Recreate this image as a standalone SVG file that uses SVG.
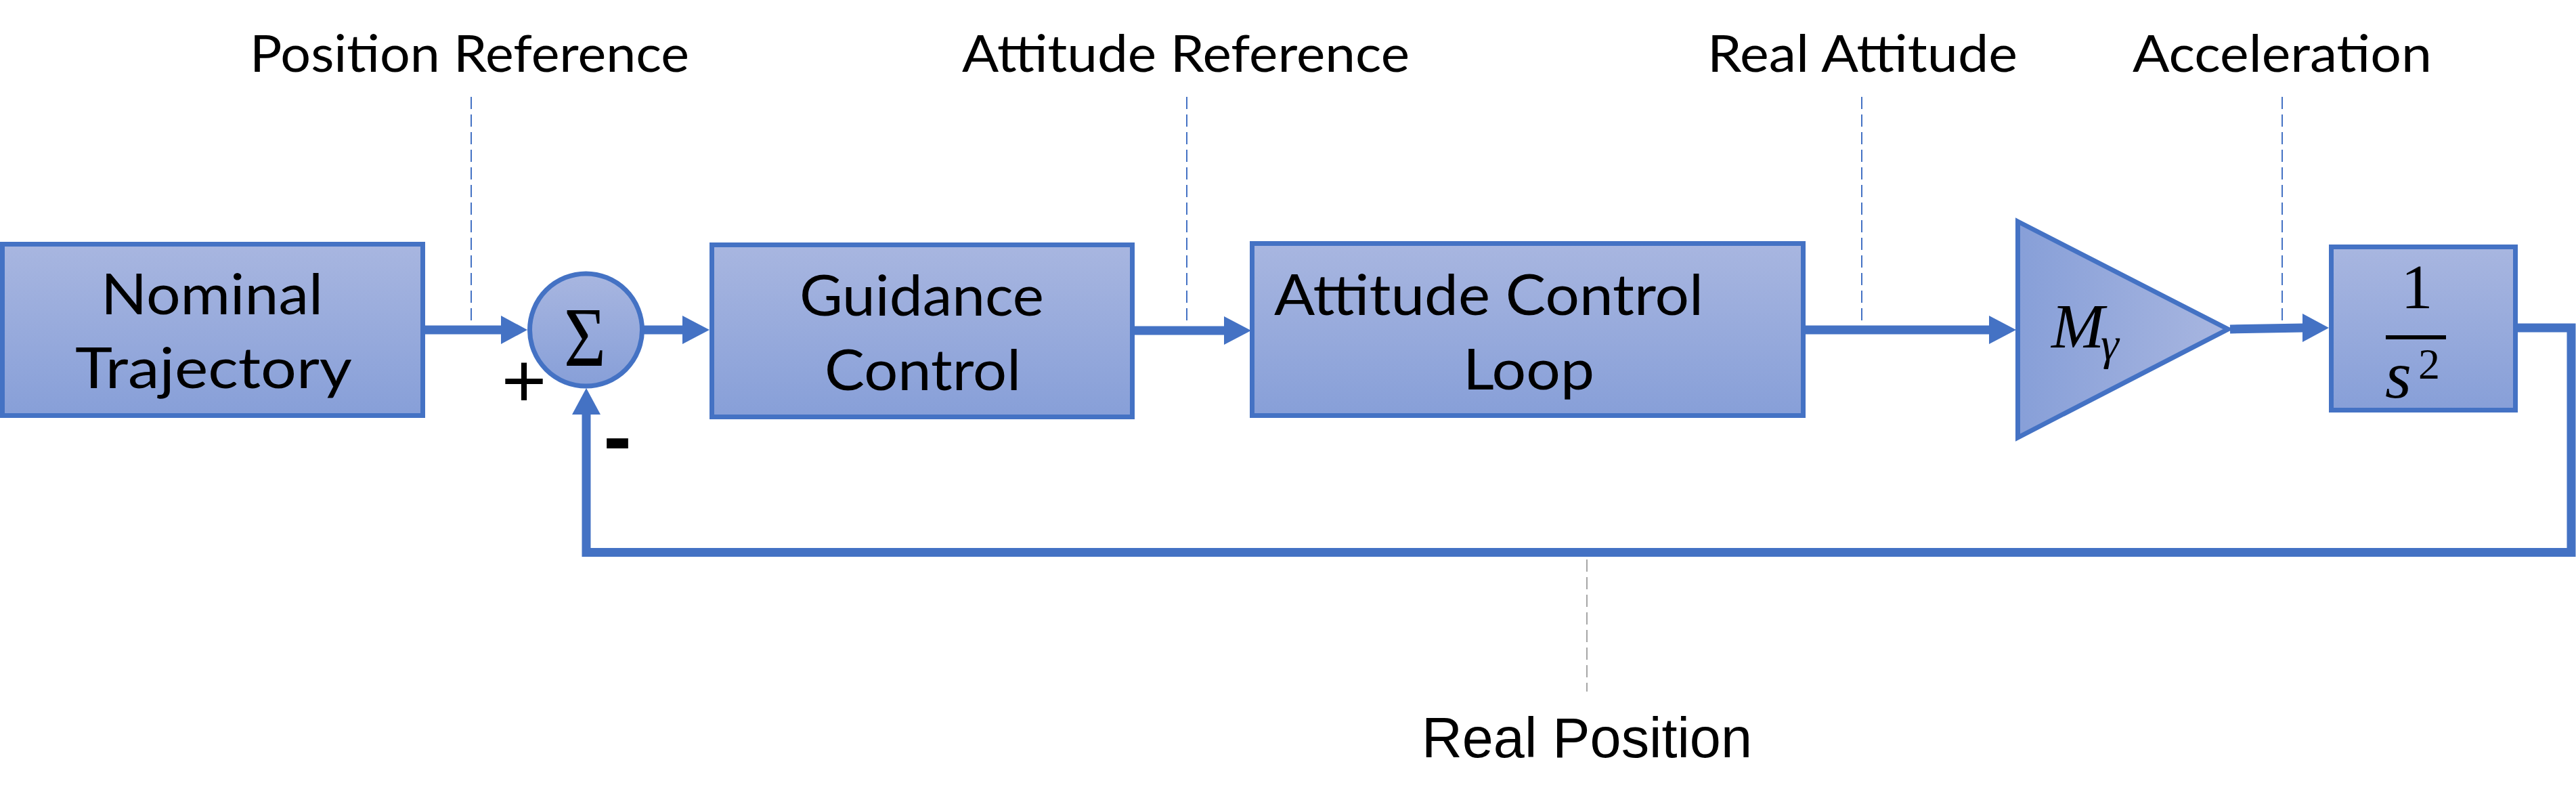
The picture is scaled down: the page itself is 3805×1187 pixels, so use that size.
<svg xmlns="http://www.w3.org/2000/svg" width="3805" height="1187" viewBox="0 0 3805 1187">
<style>
.box{stroke:#4472C4;stroke-width:7;fill:url(#gv)}
.lbl{font-family:Lato,"Liberation Sans",sans-serif;font-size:75px;fill:#000}
.btx{font-family:Lato,"Liberation Sans",sans-serif;font-size:83px;fill:#000}
.math{font-family:"Liberation Serif","DejaVu Serif",serif;fill:#000}
.conn{stroke:#4472C4;stroke-width:13;fill:none;stroke-linejoin:miter}
.head{fill:#4472C4}
.dash{stroke:#4472C4;stroke-width:2;stroke-dasharray:18 8;fill:none}
.dashg{stroke:#A6A6A6;stroke-width:2;stroke-dasharray:18 8;fill:none}
</style>
<defs>
<linearGradient id="gv" x1="0" y1="0" x2="0" y2="1">
<stop offset="0" stop-color="#A8B6E0"/>
<stop offset="1" stop-color="#879FD8"/>
</linearGradient>
<linearGradient id="gh" x1="0" y1="0" x2="1" y2="0">
<stop offset="0" stop-color="#879FD8"/>
<stop offset="1" stop-color="#A8B6E0"/>
</linearGradient>
</defs>
<rect width="3805" height="1187" fill="#fff"/>

<g id="labels">
<text class="lbl" x="369" y="106" textLength="649" lengthAdjust="spacingAndGlyphs">Position Reference</text>
<text class="lbl" x="1421" y="106" textLength="661" lengthAdjust="spacingAndGlyphs">Attitude Reference</text>
<text class="lbl" x="2522" y="106" textLength="458" lengthAdjust="spacingAndGlyphs">Real Attitude</text>
<text class="lbl" x="3150" y="106" textLength="442" lengthAdjust="spacingAndGlyphs">Acceleration</text>
<text x="2344" y="1118" font-family="'Liberation Sans',Arial,sans-serif" font-size="84" text-anchor="middle" textLength="488" lengthAdjust="spacingAndGlyphs" fill="#000">Real Position</text>
</g>

<g id="probes">
<line class="dash" x1="696" y1="143" x2="696" y2="480"/>
<line class="dash" x1="1753" y1="143" x2="1753" y2="480"/>
<line class="dash" x1="2750" y1="143" x2="2750" y2="480"/>
<line class="dash" x1="3371" y1="143" x2="3371" y2="480"/>
<line class="dashg" x1="2344" y1="826" x2="2344" y2="1021"/>
</g>

<g id="connectors">
<line class="conn" x1="628" y1="487" x2="742" y2="487"/>
<polygon class="head" points="740,466 779,487 740,508"/>
<line class="conn" x1="950" y1="487" x2="1010" y2="487"/>
<polygon class="head" points="1008,466 1048,487 1008,508"/>
<line class="conn" x1="1676" y1="488" x2="1810" y2="488"/>
<polygon class="head" points="1808,467 1848,488 1808,509"/>
<line class="conn" x1="2667" y1="487" x2="2940" y2="487"/>
<polygon class="head" points="2938,466 2978,487 2938,508"/>
<line class="conn" x1="3294" y1="486" x2="3403" y2="484"/>
<polygon class="head" points="3401,463 3440,484 3401,505"/>
<path class="conn" d="M3719,484 H3798 V815.5 H866 V610" stroke-width="14"/>
<polygon class="head" points="845,612 866,573 887,612"/>
</g>

<g id="nominal">
<rect class="box" x="3.5" y="360.5" width="621" height="253"/>
<text class="btx" x="149" y="464" textLength="328" lengthAdjust="spacingAndGlyphs">Nominal</text>
<text class="btx" x="111" y="573" textLength="409" lengthAdjust="spacingAndGlyphs">Trajectory</text>
</g>

<g id="sum">
<circle cx="865.5" cy="487" r="83" fill="url(#gv)" stroke="#4472C4" stroke-width="7"/>
<text class="math" x="864" y="540" font-size="125" text-anchor="middle" textLength="62" lengthAdjust="spacingAndGlyphs">Σ</text>
<text x="774" y="601" font-family="'Liberation Sans',Arial,sans-serif" font-size="114" text-anchor="middle" fill="#000">+</text>
<text x="912" y="687" font-family="'Liberation Sans',Arial,sans-serif" font-size="125" font-weight="bold" text-anchor="middle" fill="#000">-</text>
</g>

<g id="guidance">
<rect class="box" x="1051.5" y="361.5" width="621" height="254"/>
<text class="btx" x="1181" y="466" textLength="361" lengthAdjust="spacingAndGlyphs">Guidance</text>
<text class="btx" x="1218" y="576" textLength="290" lengthAdjust="spacingAndGlyphs">Control</text>
</g>

<g id="attitude-loop">
<rect class="box" x="1849.5" y="359.5" width="814" height="254"/>
<text class="btx" x="1882" y="465" textLength="634" lengthAdjust="spacingAndGlyphs">Attitude Control</text>
<text class="btx" x="2161" y="575" textLength="194" lengthAdjust="spacingAndGlyphs">Loop</text>
</g>

<g id="gain">
<polygon points="2980.5,327 3291,486 2980.5,646" fill="url(#gh)" stroke="#4472C4" stroke-width="7"/>
<text class="math" x="3030" y="513" font-size="94" font-style="italic">M</text>
<text class="math" x="3103" y="531" font-size="68" font-style="italic">γ</text>
</g>

<g id="integrator">
<rect class="box" x="3443.5" y="364.5" width="272" height="241"/>
<text class="math" x="3570" y="455" font-size="94" text-anchor="middle">1</text>
<rect x="3524" y="495" width="89" height="6" fill="#000"/>
<text class="math" x="3523" y="587" font-size="100" font-style="italic">s</text>
<text class="math" x="3572" y="559" font-size="64">2</text>
</g>
</svg>
